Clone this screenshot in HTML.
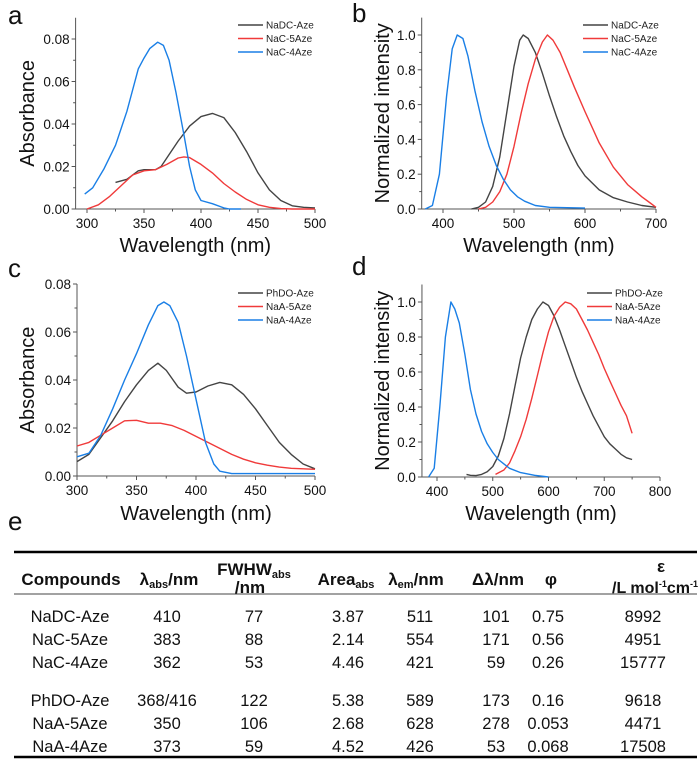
<!DOCTYPE html>
<html><head><meta charset="utf-8"><style>
body{margin:0;background:#fff}
svg{display:block;font-family:"Liberation Sans",Arial,sans-serif}
</style></head><body>
<svg id="fig" width="700" height="761" viewBox="0 0 700 761" xmlns="http://www.w3.org/2000/svg">
<g id="charts"></g>
<g id="tbl" font-size="16.5" fill="#111" text-anchor="middle">
<text x="8" y="530" font-size="26" text-anchor="start">e</text>
<line x1="14" y1="552" x2="697" y2="552" stroke="#000" stroke-width="2.5"/>
<line x1="14" y1="594" x2="697" y2="594" stroke="#444" stroke-width="1"/>
<line x1="14" y1="757" x2="697" y2="757" stroke="#000" stroke-width="2.5"/>
<g font-weight="bold" font-size="17">
<text x="71" y="585">Compounds</text>
<text x="169" y="585">λ<tspan font-size="11" dy="3">abs</tspan><tspan dy="-3">/nm</tspan></text>
<text x="254" y="575">FWHW<tspan font-size="11" dy="3">abs</tspan></text>
<text x="250" y="593">/nm</text>
<text x="346" y="585">Area<tspan font-size="11" dy="3">abs</tspan></text>
<text x="416" y="585">λ<tspan font-size="11" dy="3">em</tspan><tspan dy="-3">/nm</tspan></text>
<text x="498" y="585">Δλ/nm</text>
<text x="551" y="585">φ</text>
<text x="661" y="572">ε</text>
<text x="698" y="593" text-anchor="end" font-size="16">/L mol<tspan font-size="9" dy="-6">-1</tspan><tspan dy="6">cm</tspan><tspan font-size="9" dy="-6">-1</tspan></text>
</g>
<g id="rows"></g>
</g>
</svg>
<script>
// ---------- DATA ----------
const aX1=[325,335,345,350,360,365,370,380,390,400,410,420,430,440,450,460,470,480,490,500];
const aY1=[0.0125,0.014,0.018,0.0185,0.0185,0.02,0.024,0.032,0.039,0.0435,0.045,0.043,0.036,0.027,0.017,0.009,0.004,0.0015,0.0008,0.0005];
const aX2=[300,310,320,330,340,350,360,370,380,385,390,400,410,420,430,440,450,460,470,480,500];
const aY2=[0,0.002,0.006,0.011,0.016,0.018,0.0185,0.021,0.024,0.0245,0.0242,0.021,0.017,0.012,0.008,0.0045,0.002,0.0008,0.0002,0,0];
const aX3=[298,305,315,325,335,345,350,355,362,367,372,378,385,390,395,400,410,420,425,435];
const aY3=[0.007,0.01,0.019,0.03,0.046,0.066,0.071,0.0755,0.0785,0.077,0.07,0.055,0.035,0.02,0.009,0.004,0.0025,0.0005,0,0];
const bX1=[440,450,460,470,480,490,500,508,513,520,530,540,550,560,570,580,590,600,620,640,660,680,700];
const bY1=[0,0.01,0.04,0.13,0.3,0.56,0.82,0.97,1.0,0.98,0.9,0.78,0.65,0.53,0.42,0.33,0.25,0.19,0.11,0.065,0.04,0.02,0.01];
const bX2=[450,460,470,480,490,500,510,520,530,540,547,555,565,575,585,600,620,640,660,680,690,700];
const bY2=[0,0.01,0.04,0.1,0.2,0.36,0.55,0.72,0.86,0.96,1.0,0.97,0.9,0.8,0.7,0.56,0.38,0.24,0.14,0.07,0.04,0.01];
const bX3=[375,385,395,405,413,420,428,435,445,455,465,475,485,495,505,515,530,550,600];
const bY3=[0,0.02,0.2,0.65,0.92,1.0,0.98,0.88,0.68,0.5,0.36,0.25,0.17,0.11,0.07,0.045,0.02,0.01,0.005];
const cX1=[300,310,320,330,340,350,360,368,375,385,392,400,410,420,430,440,450,460,470,480,490,500];
const cY1=[0.006,0.009,0.016,0.023,0.031,0.038,0.044,0.047,0.044,0.037,0.0345,0.035,0.0375,0.039,0.038,0.034,0.028,0.021,0.014,0.009,0.005,0.003];
const cX2=[300,310,320,330,340,350,360,370,380,390,400,410,420,430,440,450,460,470,480,500];
const cY2=[0.0125,0.014,0.017,0.02,0.023,0.0232,0.022,0.022,0.021,0.019,0.0165,0.014,0.0115,0.009,0.007,0.0055,0.0045,0.0037,0.0032,0.0028];
const cX3=[300,310,320,330,340,350,360,368,373,378,385,392,400,408,415,420,430,500];
const cY3=[0.008,0.0095,0.017,0.028,0.04,0.051,0.063,0.071,0.0725,0.071,0.064,0.05,0.032,0.014,0.005,0.002,0.001,0.001];
const dX1=[453,460,470,480,490,500,510,520,530,540,550,560,570,580,590,600,610,620,630,640,650,660,670,680,690,700,710,720,730,740,750];
const dY1=[0.015,0.01,0.008,0.015,0.03,0.06,0.12,0.22,0.36,0.52,0.68,0.8,0.9,0.96,1.0,0.98,0.92,0.84,0.75,0.66,0.57,0.49,0.42,0.35,0.29,0.23,0.19,0.16,0.13,0.11,0.1];
const dX2=[505,520,530,540,550,560,570,580,590,600,610,620,630,640,650,660,670,680,690,700,710,720,730,740,750];
const dY2=[0.015,0.04,0.08,0.15,0.23,0.33,0.45,0.58,0.71,0.83,0.92,0.97,1.0,0.99,0.96,0.9,0.84,0.77,0.7,0.62,0.55,0.48,0.41,0.35,0.25];
const dX3=[385,395,405,415,425,432,440,450,460,470,480,490,500,510,520,530,550,575,600];
const dY3=[0,0.05,0.4,0.8,1.0,0.96,0.88,0.7,0.5,0.36,0.26,0.19,0.14,0.1,0.075,0.05,0.025,0.01,0];
const absTicks=["0.00","0.02","0.04","0.06","0.08"];
const absTickVals=[0,0.02,0.04,0.06,0.08];
const normTicks=["0.0","0.2","0.4","0.6","0.8","1.0"];
const normTickVals=[0,0.2,0.4,0.6,0.8,1.0];
const legendA=["NaDC-Aze","NaC-5Aze","NaC-4Aze"];
const legendC=["PhDO-Aze","NaA-5Aze","NaA-4Aze"];
const tableRows=[
["NaDC-Aze","410","77","3.87","511","101","0.75","8992"],
["NaC-5Aze","383","88","2.14","554","171","0.56","4951"],
["NaC-4Aze","362","53","4.46","421","59","0.26","15777"],
["PhDO-Aze","368/416","122","5.38","589","173","0.16","9618"],
["NaA-5Aze","350","106","2.68","628","278","0.053","4471"],
["NaA-4Aze","373","59","4.52","426","53","0.068","17508"]];
const colors=["#444","#f03a3a","#1a7fe6"];
// ---------- DRAW ----------
const NS="http://www.w3.org/2000/svg";
function mk(parent,tag,attrs){const e=document.createElementNS(NS,tag);for(const k in attrs)e.setAttribute(k,attrs[k]);parent.appendChild(e);return e;}
function panel(p){
  const root=document.getElementById('charts');
  const g=mk(root,'g',{});
  
  
  const sx=v=>p.px0+(v-p.x0)*(p.px1-p.px0)/(p.x1-p.x0);
  const sy=v=>p.py0+(v-p.y0)*(p.py1-p.py0)/(p.y1-p.y0);
  const L=sx(p.xmin),R=sx(p.xmax),B=sy(0),T=sy(p.ymax);
  const lbl=mk(g,'text',{x:p.lx,y:p.ly,'font-size':26,fill:'#111'});lbl.textContent=p.id;
  
  const ax=mk(g,'path',{d:`M${L},${T}V${B}H${R}`,stroke:'#555',fill:'none','stroke-width':1});
  
  p.xt.forEach((v,i)=>{const x=sx(v);mk(g,'line',{x1:x,x2:x,y1:B,y2:B+4,stroke:'#555'});
    const t=mk(g,'text',{x:x,y:B+19,'font-size':13.5,'text-anchor':'middle',fill:'#111'});t.textContent=String(v);
    
    if(i<p.xt.length-1){const m=sx(v+(p.xt[1]-p.xt[0])/2);mk(g,'line',{x1:m,x2:m,y1:B,y2:B+2.5,stroke:'#555'});}});
  p.yv.forEach((v,i)=>{const y=sy(v);mk(g,'line',{x1:L-4,x2:L,y1:y,y2:y,stroke:'#555'});
    const t=mk(g,'text',{x:L-6,y:y+5,'font-size':13.5,'text-anchor':'end',fill:'#111'});t.textContent=p.yl[i];
    
    const m=sy(v+(p.yv[1]-p.yv[0])/2);if(m>T)mk(g,'line',{x1:L-2.5,x2:L,y1:m,y2:m,stroke:'#555'});});
  const xt=mk(g,'text',{x:(L+R)/2,y:p.xty,'font-size':20,'text-anchor':'middle',fill:'#111'});xt.textContent='Wavelength (nm)';
  
  const yt=mk(g,'text',{x:0,y:0,'font-size':20,'text-anchor':'middle',fill:'#111',transform:`translate(${p.ytx},${(T+B)/2}) rotate(-90)`});yt.textContent=p.ytitle;
  
  p.series.forEach((s,i)=>{
    const d=s[0].map((x,j)=>(j?'L':'M')+sx(x).toFixed(1)+','+sy(s[1][j]).toFixed(1)).join('');
    const path=mk(g,'path',{d:d,stroke:colors[i],fill:'none','stroke-width':1.4,'stroke-linejoin':'round'});
    
    
    const ly=p.legy+i*13.5;
    mk(g,'line',{x1:p.legx,x2:p.legx+25,y1:ly,y2:ly,stroke:colors[i],'stroke-width':1.4});
    const lt=mk(g,'text',{x:p.legx+28,y:ly+3.5,'font-size':10,fill:'#222'});lt.textContent=p.legend[i];
    
    
  });
}
panel({id:'a',x0:300,x1:500,px0:87,px1:315,y0:0,y1:0.08,py0:209,py1:39,xmin:290,xmax:500,ymax:0.09,
  xt:[300,350,400,450,500],yv:absTickVals,yl:absTicks,ytitle:'Absorbance',ytx:34,xty:252,lx:8,ly:24,
  legx:238,legy:25,legend:legendA,series:[[aX1,aY1],[aX2,aY2],[aX3,aY3]]});
panel({id:'b',x0:400,x1:700,px0:443,px1:656,y0:0,y1:1,py0:209,py1:35,xmin:370,xmax:700,ymax:1.1,
  xt:[400,500,600,700],yv:normTickVals,yl:normTicks,ytitle:'Normalized intensity',ytx:389,xty:252,lx:352,ly:22,
  legx:583,legy:25,legend:legendA,series:[[bX1,bY1],[bX2,bY2],[bX3,bY3]]});
panel({id:'c',x0:300,x1:500,px0:77,px1:315,y0:0,y1:0.08,py0:476,py1:284,xmin:300,xmax:500,ymax:0.08,
  xt:[300,350,400,450,500],yv:absTickVals,yl:absTicks,ytitle:'Absorbance',ytx:34,xty:520,lx:8,ly:277,
  legx:238,legy:293,legend:legendC,series:[[cX1,cY1],[cX2,cY2],[cX3,cY3]]});
panel({id:'d',x0:400,x1:800,px0:437,px1:660,y0:0,y1:1,py0:477,py1:302,xmin:373,xmax:800,ymax:1.1,
  xt:[400,500,600,700,800],yv:normTickVals,yl:normTicks,ytitle:'Normalized intensity',ytx:389,xty:520,lx:352,ly:275,
  legx:587,legy:293,legend:legendC,series:[[dX1,dY1],[dX2,dY2],[dX3,dY3]]});
// table
const cols=[70,167,254,348,420,496,548,643];
const rowY=[622,645,668,706,729,752];
const rows=document.getElementById('rows');
tableRows.forEach((r,i)=>{r.forEach((c,j)=>{const t=mk(rows,'text',{x:cols[j],y:rowY[i]});t.textContent=c;
  
  });});
</script>
</body></html>
